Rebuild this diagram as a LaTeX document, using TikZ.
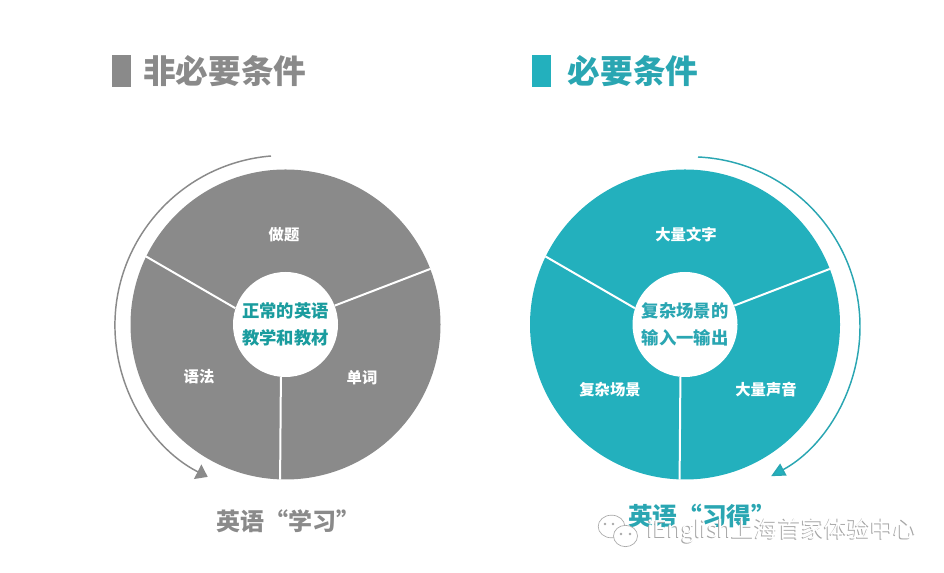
\documentclass[tikz,border=0pt]{standalone}
\usepackage{fontspec}
\setmainfont{Noto Sans CJK SC}
\usetikzlibrary{arrows.meta,shapes.geometric}
\definecolor{greypie}{HTML}{8A8A8A}
\definecolor{tealpie}{HTML}{23B0BD}
\definecolor{tealhead}{HTML}{2AA6B2}
\definecolor{tealcore}{HTML}{1A9C9E}
\definecolor{markgrey}{HTML}{A8A8A8}
\tikzset{
  pie/.style={circle, minimum size=232.5pt, inner sep=0pt},
  core/.style={circle, fill=white, minimum size=78.75pt, inner sep=0pt, align=center, font=\fontsize{13}{20}\selectfont\bfseries},
  spoke/.style={draw=white, line width=1.5pt},
  part/.style={text=white, font=\fontsize{11.5}{14}\selectfont\bfseries},
  headline/.style={font=\fontsize{24.5}{28}\selectfont\bfseries},
  footline/.style={font=\fontsize{18}{22}\selectfont\bfseries},
  bar/.style={minimum width=14.25pt, minimum height=24pt, inner sep=0pt},
  turnleft/.style={line width=1.1pt, -{Triangle[length=8.5pt,width=12pt]}},
  turnright/.style={line width=1.1pt, -{Triangle[length=10.5pt,width=10pt,fill=tealpie]}},
  bubble/.style={ellipse, draw=markgrey, line width=0.5pt, inner sep=0pt}
}
\begin{document}
\begin{tikzpicture}[x=0.75pt,y=0.75pt]
\useasboundingbox (0,0) rectangle (944,573);
\node[bar, fill=greypie] (leftbar) at (121.5,502) {};
\node[headline, text=greypie, anchor=west] (lefthead) at (138.5,502) {非必要条件};
\node[bar, fill=tealpie] (rightbar) at (541.5,502) {};
\node[headline, text=tealhead, anchor=west] (righthead) at (563,502) {必要条件};
\node[pie, fill=greypie] (leftpie) at (285.5,248.5) {};
\node[core, text=tealcore] (leftcore) at (285.5,248.5) {正常的英语\\教学和教材};
\draw[spoke] (leftcore.162) -- (leftpie.154.5);
\draw[spoke] (leftcore.21.5) -- (leftpie.21.5);
\draw[spoke] (leftcore.265) -- (leftpie.268);
\node[part] (leftzuoti) at (284,338) {做题};
\node[part] (leftyufa) at (199,196) {语法};
\node[part] (leftdanci) at (362,195) {单词};
\coordinate (leftstart) at (271,417);
\draw[turnleft, draw=greypie] (leftstart) arc[start angle=94.7, end angle=243, radius=127.5pt];
\node[footline, text=greypie] (leftfoot) at (288,52) {英语“学习”};
\node[pie, fill=tealpie] (rightpie) at (685,248.5) {};
\node[core, text=tealhead] (rightcore) at (685,248.5) {复杂场景的\\输入一输出};
\draw[spoke] (rightcore.162) -- (rightpie.154.5);
\draw[spoke] (rightcore.21.5) -- (rightpie.21.5);
\draw[spoke] (rightcore.265) -- (rightpie.268);
\node[part] (rightwenzi) at (686,338) {大量文字};
\node[part] (rightchangjing) at (610,183) {复杂场景};
\node[part] (rightshengyin) at (766,183) {大量声音};
\coordinate (rightstart) at (698,416);
\draw[turnright, draw=tealhead] (rightstart) arc[start angle=87.3, end angle=-61.5, radius=127.5pt];
\node[footline, text=tealhead, font=\fontsize{18.5}{22}\selectfont\bfseries] (rightfoot) at (702,57) {英语“习得”};
\node[bubble, minimum width=20pt, minimum height=17pt] (markleft) at (611.5,46.5) {};
\node[bubble, fill=white, minimum width=18pt, minimum height=16pt] (markright) at (625.5,37) {};
\foreach \px/\py in {605/49, 613/49, 621/39, 630/39}
  \fill[markgrey] (\px,\py) circle (1pt);
\node[text=markgrey, anchor=west, font=\fontsize{17.3}{20}\selectfont] (markshade) at (641.5,41.5) {iEnglish上海首家体验中心};
\node[text=white, anchor=west, font=\fontsize{17.3}{20}\selectfont] (marktext) at (642.5,42.5) {iEnglish上海首家体验中心};
\end{tikzpicture}
\end{document}
